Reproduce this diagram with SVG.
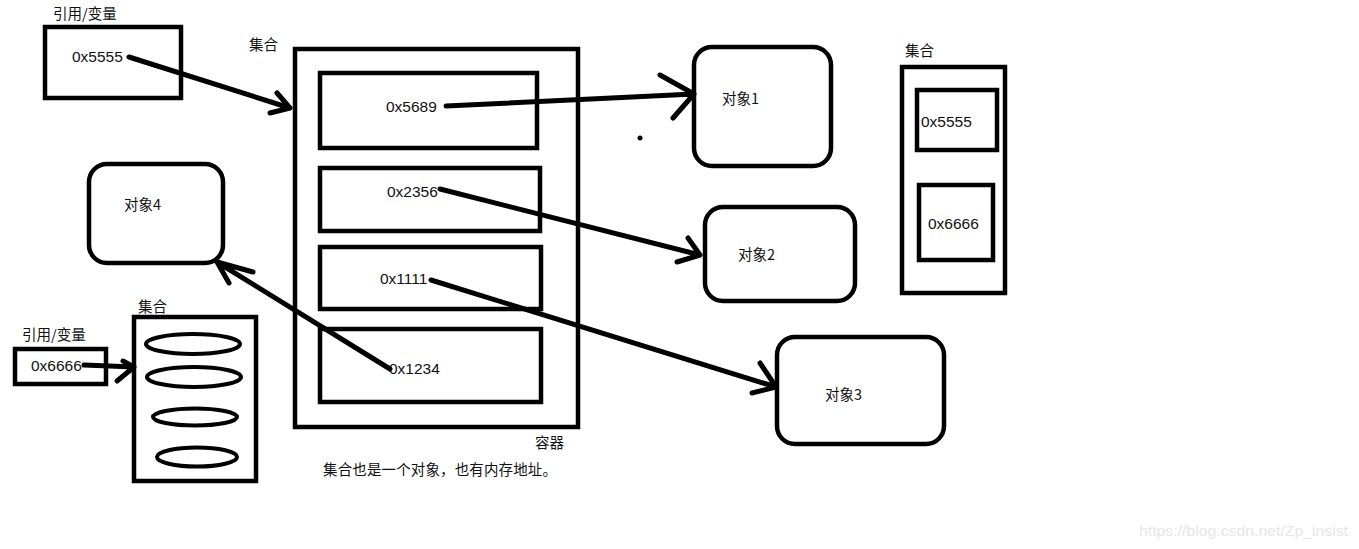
<svg xmlns="http://www.w3.org/2000/svg" width="1359" height="549" viewBox="0 0 1359 549">
<style>
.box{fill:none;stroke:#000;stroke-width:4.5}
.rbox{fill:none;stroke:#000;stroke-width:4.5}
.ell{fill:none;stroke:#000;stroke-width:4}
.t{font-family:"Liberation Sans","Noto Sans CJK SC",sans-serif;font-size:15.5px;fill:#111}
.c{font-family:"Noto Sans CJK SC","Liberation Sans",sans-serif;font-size:14.5px;fill:#111}
.w{font-family:"Liberation Sans",Arial,sans-serif;font-size:15px;fill:#e6e6e6}
.ln{fill:none;stroke:#000;stroke-width:5;stroke-linecap:round;stroke-linejoin:round}
</style>
<rect width="1359" height="549" fill="#fff"/>

<g id="ref1">
  <text class="c" x="53" y="19">引用/变量</text>
  <rect class="box" x="45" y="27" width="136" height="71"/>
  <text class="t" x="72" y="62">0x5555</text>
</g>

<g id="container">
  <text class="c" x="249" y="50">集合</text>
  <rect class="box" x="295" y="49" width="283" height="378"/>
  <text class="c" x="535" y="448">容器</text>
</g>
<g id="slot1"><rect class="box" x="320" y="73" width="217" height="75"/><text class="t" x="386" y="112">0x5689</text></g>
<g id="slot2"><rect class="box" x="320" y="168" width="220" height="63"/><text class="t" x="387" y="197">0x2356</text></g>
<g id="slot3"><rect class="box" x="320" y="247" width="221" height="62"/><text class="t" x="380" y="284">0x1111</text></g>
<g id="slot4"><rect class="box" x="320" y="329" width="221" height="73"/><text class="t" x="389" y="374">0x1234</text></g>

<g id="obj1"><rect class="rbox" x="694" y="47" width="137" height="119" rx="18"/><text class="c" x="722" y="104">对象1</text></g>
<g id="obj2"><rect class="rbox" x="705" y="207" width="150" height="94" rx="18"/><text class="c" x="738" y="260">对象2</text></g>
<g id="obj3"><rect class="rbox" x="777" y="337" width="167" height="107" rx="18"/><text class="c" x="825" y="400">对象3</text></g>
<g id="obj4"><rect class="rbox" x="89" y="164" width="134" height="99" rx="18"/><text class="c" x="124" y="210">对象4</text></g>

<g id="ref2">
  <text class="c" x="22" y="340">引用/变量</text>
  <rect class="box" x="15" y="349" width="91" height="35"/>
  <text class="t" x="31" y="371">0x6666</text>
</g>

<g id="set-left">
  <text class="c" x="138" y="312">集合</text>
  <rect class="box" x="134" y="317" width="122" height="164"/>
  <ellipse class="ell" cx="193" cy="344" rx="47" ry="10"/>
  <ellipse class="ell" cx="194" cy="377" rx="47" ry="10"/>
  <ellipse class="ell" cx="195" cy="417" rx="42" ry="8.5"/>
  <ellipse class="ell" cx="197" cy="457" rx="40" ry="9.5"/>
</g>

<g id="set-right">
  <text class="c" x="905" y="56">集合</text>
  <rect class="box" x="902" y="67" width="103" height="226"/>
  <rect class="box" x="917" y="90" width="80" height="60"/>
  <text class="t" x="921" y="127">0x5555</text>
  <rect class="box" x="919" y="185" width="74" height="75"/>
  <text class="t" x="928" y="229">0x6666</text>
</g>

<g id="connectors">
  <path class="ln" d="M129,57 L290,108 M277,93 L290,108 L270,113"/>
  <path class="ln" d="M446,106 L694,94 M660,75 L694,94 L673,118"/>
  <path class="ln" d="M440,189 L700,255 M688,238 L700,255 L677,262"/>
  <path class="ln" d="M431,280 L776,387 M760,363 L776,387 L752,393"/>
  <path class="ln" d="M390,369 L217,262 M253,272 L217,262 L229,283"/>
  <path class="ln" d="M84,365 L134,367 M123,361 L134,367 L117,381"/>
  <circle cx="640" cy="138" r="2.5" fill="#000"/>
</g>

<text class="c" x="323" y="475" textLength="234" lengthAdjust="spacing">集合也是一个对象，也有内存地址。</text>
<text class="w" x="1139" y="536" textLength="209" lengthAdjust="spacingAndGlyphs">https://blog.csdn.net/Zp_insist</text>
</svg>
